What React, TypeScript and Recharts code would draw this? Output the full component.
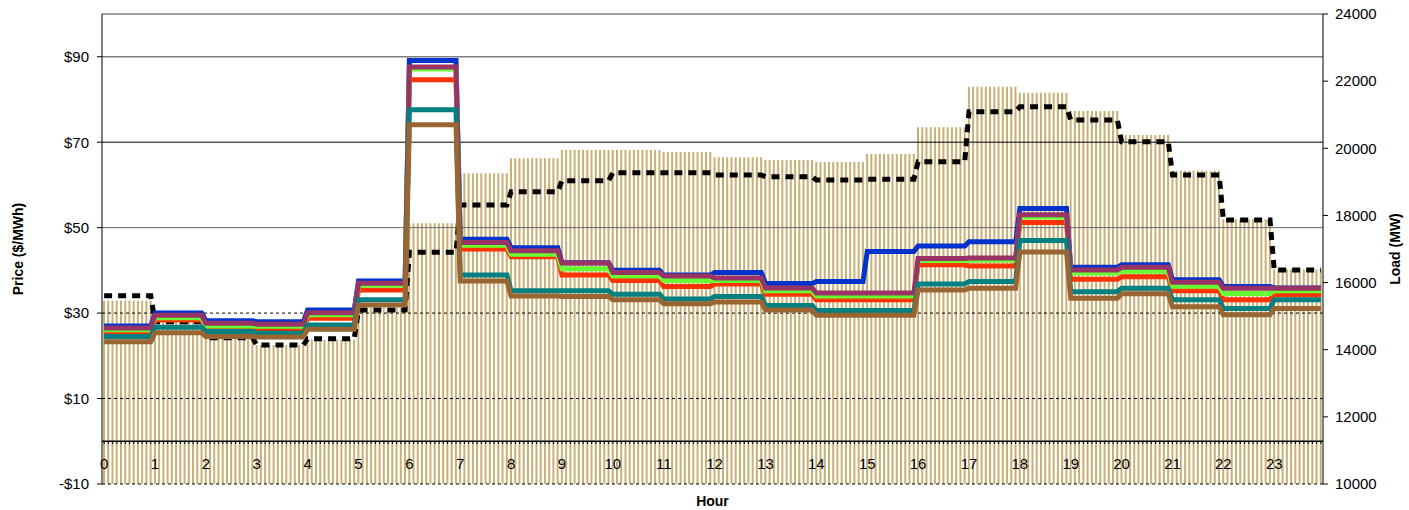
import React from 'react';
import { ComposedChart, Bar, Line, XAxis, YAxis, ReferenceLine } from 'recharts';

// hourly values, each hour is drawn as twelve 5-minute slots
const hours = [0, 1, 2, 3, 4, 5, 6, 7, 8, 9, 10, 11, 12, 13, 14, 15, 16, 17, 18, 19, 20, 21, 22, 23];

const loadBars = [15460, 14830, 14350, 14140, 14300, 15240, 17765, 19254, 19701, 19949, 19949, 19890,
  19732, 19651, 19592, 19830, 20624, 21835, 21657, 21111, 20396, 19333, 17884, 16395];
const loadLine = [15609, 14835, 14358, 14140, 14329, 15183, 16901, 18311, 18708, 19035, 19274, 19274,
  19204, 19155, 19055, 19075, 19601, 21091, 21240, 20843, 20197, 19204, 17864, 16374];

const priceBlue = [27.0, 30.0, 28.2, 28.0, 30.7, 37.5, 89.1, 47.3, 45.3, 41.8, 40.0, 38.9,
  39.5, 36.9, 37.4, 44.4, 45.7, 46.7, 54.5, 40.7, 41.3, 37.8, 36.2, 35.9];
const pricePurple = [26.5, 29.5, 27.6, 27.4, 30.1, 37.0, 87.6, 46.5, 44.6, 41.7, 39.5, 38.7,
  38.2, 35.9, 34.7, 34.7, 42.8, 42.9, 53.0, 40.1, 40.7, 37.2, 35.8, 35.8];
const priceGreen = [26.1, 28.9, 27.0, 26.9, 29.6, 36.5, 87.1, 45.9, 43.8, 40.4, 38.7, 37.6,
  37.6, 35.2, 34.0, 34.0, 42.3, 42.4, 52.5, 39.4, 39.8, 36.3, 34.6, 35.2];
const priceRed = [25.6, 28.4, 26.4, 26.2, 28.8, 35.4, 84.6, 45.0, 43.2, 38.9, 37.6, 36.2,
  36.8, 34.4, 33.1, 33.1, 41.3, 41.0, 51.2, 37.9, 38.5, 35.2, 33.1, 34.3];
const priceTeal = [24.5, 26.7, 25.7, 25.3, 27.2, 33.1, 77.6, 38.9, 35.2, 35.2, 34.4, 33.3,
  33.9, 31.8, 30.6, 30.6, 36.8, 37.4, 47.0, 35.0, 35.8, 33.1, 31.1, 33.1];
const priceBrown = [23.3, 25.4, 24.5, 24.4, 26.2, 31.9, 74.1, 37.5, 34.0, 33.9, 33.1, 32.2,
  32.6, 30.7, 29.5, 29.5, 35.4, 35.8, 44.3, 33.5, 34.5, 31.5, 29.6, 31.1];

const priceTicks = [-10, 10, 30, 50, 70, 90];
const loadTicks = [10000, 12000, 14000, 16000, 18000, 20000, 22000, 24000];

const SLOTS_PER_HOUR = 12;

const data: any[] = [];
hours.forEach((h, i) => {
  for (let k = 0; k < SLOTS_PER_HOUR; k++) {
    data.push({
      slot: i * SLOTS_PER_HOUR + k,
      hour: h,
      bars: loadBars[i],
      load: loadLine[i],
      blue: priceBlue[i],
      purple: pricePurple[i],
      green: priceGreen[i],
      red: priceRed[i],
      teal: priceTeal[i],
      brown: priceBrown[i],
    });
  }
});

// drawing order matters, later lines sit on top
const series = [
  { key: 'blue', color: '#0033CC' },
  { key: 'red', color: '#FF3300' },
  { key: 'green', color: '#66FF33' },
  { key: 'purple', color: '#993366' },
  { key: 'teal', color: '#008080' },
  { key: 'brown', color: '#996633' },
];

const HourTick = (props: any) => {
  const { x, payload } = props;
  const slot = payload.value;
  return (
    <g>
      <line x1={x} x2={x} y1={441} y2={444} stroke="#000" strokeWidth={1} />
      {slot % SLOTS_PER_HOUR === 0 && (
        <text x={x} y={469} textAnchor="middle" fontSize={15} fill="#000">
          {slot / SLOTS_PER_HOUR}
        </text>
      )}
    </g>
  );
};

const fmtPrice = (v: number) => (v < 0 ? `-$${-v}` : `$${v}`);

const titleStyle = { fontWeight: 'bold', fontSize: 14, fill: '#000', textAnchor: 'middle' } as any;

export default function App() {
  return (
    <div style={{ position: 'absolute', left: 0, top: 0, fontFamily: '"Liberation Sans", Arial, sans-serif' }}>
      <ComposedChart width={1409} height={510} data={data} margin={{ top: 14, right: 0, bottom: 0, left: 0 }}>
        <XAxis
          dataKey="slot"
          interval={0}
          tick={<HourTick />}
          tickLine={false}
          axisLine={false}
          height={26}
          label={{ value: 'Hour', position: 'insideBottom', offset: 4, style: titleStyle }}
        />
        <YAxis
          yAxisId="price"
          domain={[-10, 100]}
          ticks={priceTicks}
          tickFormatter={fmtPrice}
          width={102}
          tickSize={5}
          tickMargin={8}
          tick={{ fontSize: 15, fill: '#000' }}
          axisLine={{ stroke: '#000' }}
          tickLine={{ stroke: '#000' }}
          label={{ value: 'Price ($/MWh)', angle: -90, position: 'insideLeft', offset: 18, style: titleStyle }}
        />
        <YAxis
          yAxisId="load"
          orientation="right"
          domain={[10000, 24000]}
          ticks={loadTicks}
          width={86}
          tickSize={5}
          tickMargin={7}
          tick={{ fontSize: 15, fill: '#000' }}
          axisLine={{ stroke: '#000' }}
          tickLine={{ stroke: '#000' }}
          label={{ value: 'Load (MW)', angle: -90, position: 'insideRight', offset: 14, style: titleStyle }}
        />
        <ReferenceLine yAxisId="price" y={100} stroke="#808080" strokeWidth={1.5} />
        <ReferenceLine yAxisId="price" y={90} stroke="#808080" strokeWidth={1.5} />
        <ReferenceLine yAxisId="price" y={70} stroke="#000" />
        <ReferenceLine yAxisId="price" y={50} stroke="#666" />
        <ReferenceLine yAxisId="price" y={30} stroke="#000" strokeDasharray="3 3" />
        <ReferenceLine yAxisId="price" y={10} stroke="#000" strokeDasharray="3 3" />
        <ReferenceLine yAxisId="price" y={-10} stroke="#000" strokeDasharray="3 3" />
        <Bar yAxisId="load" dataKey="bars" fill="#C9AF76" barSize={2} isAnimationActive={false} />
        <ReferenceLine yAxisId="price" y={0} stroke="#000" strokeWidth={1.5} />
        <Line
          yAxisId="load"
          type="linear"
          dataKey="load"
          stroke="#000"
          strokeWidth={5}
          strokeDasharray="8 6"
          dot={false}
          isAnimationActive={false}
        />
        {series.map(s => (
          <Line
            key={s.key}
            yAxisId="price"
            type="linear"
            dataKey={s.key}
            stroke={s.color}
            strokeWidth={5}
            dot={false}
            isAnimationActive={false}
          />
        ))}
      </ComposedChart>
    </div>
  );
}
